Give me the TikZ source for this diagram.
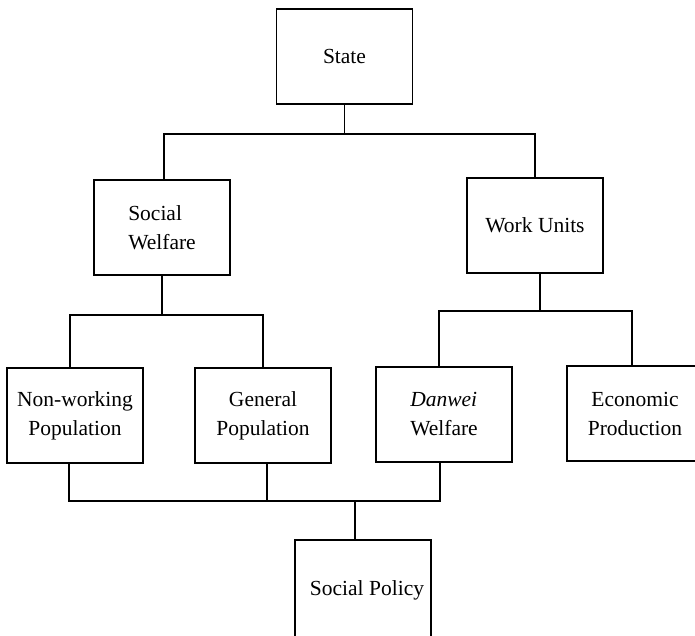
\documentclass[tikz,border=0pt]{standalone}
\usepackage{fontspec}
\setmainfont{Liberation Serif}
\usetikzlibrary{positioning}

\tikzset{
  unit/.style={draw, line width=1.2pt, minimum width=136pt, minimum height=95pt,
    inner sep=2pt, outer sep=0pt, font=\fontsize{21.5pt}{29pt}\selectfont},
  link/.style={line width=1.2pt}
}

\begin{document}
\begin{tikzpicture}
  \useasboundingbox (0,0) rectangle (695pt,-636pt);

  % top
  \node[unit](state) at (344.5pt,-56.5pt){State};
  \node[unit, align=left, below=76pt of state, xshift=-182.5pt](swel){Social\\Welfare};
  \node[unit, below=74pt of state, xshift=190.5pt](wunits){Work Units};

  % left
  \node[unit, align=center, below=93pt of swel, xshift=-87pt](nonwork){Non-working\\Population};
  \node[unit, align=center, right=52pt of nonwork](genpop){General\\Population};

  % right
  \node[unit, align=left, below=94pt of wunits, xshift=-91pt](danwei){\textit{Danwei}\\Welfare};
  \node[unit, align=center, right=55pt of danwei, yshift=1pt](econ){Economic\\Production};

  % bottom
  \node[unit, minimum height=100pt, below=77pt of genpop, xshift=100pt](policy){\hspace{8pt}Social Policy};

  \draw[link] (state.south) -- ++(0,-30pt) coordinate (bus1);
  \draw[link] ([xshift=2pt]swel.north) |- (bus1) -| (wunits.north);

  \draw[link] (swel.south) -- ++(0,-40pt) coordinate (bus2);
  \draw[link] ([xshift=-5pt]nonwork.north) |- (bus2) -| (genpop.north);

  \draw[link] ([xshift=5pt]wunits.south) -- ++(0,-38pt) coordinate (bus3);
  \draw[link] ([xshift=-5pt]danwei.north) |- (bus3) -| ([xshift=-3pt]econ.north);

  \draw[link] ([xshift=-6pt]nonwork.south) -- ++(0,-38pt) coordinate (bus4) -| ([xshift=-4pt]danwei.south);
  \draw[link] ([xshift=4pt]genpop.south) -- ++(0,-38pt);
  \draw[link] ([xshift=-8pt]policy.north) -- ++(0,39pt);
\end{tikzpicture}
\end{document}
